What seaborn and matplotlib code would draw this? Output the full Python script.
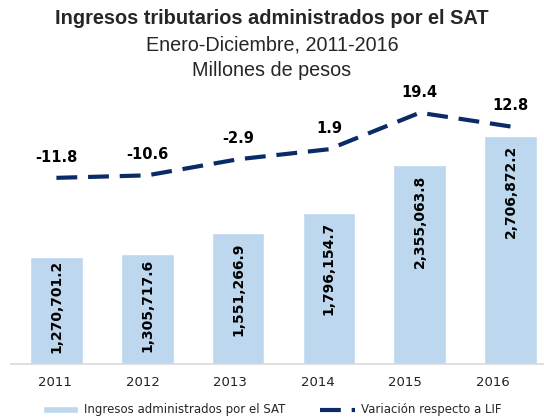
import matplotlib
matplotlib.use("Agg")
import matplotlib.pyplot as plt
import matplotlib.transforms as mtransforms
import seaborn as sns
import pandas as pd

# data
years = ["2011", "2012", "2013", "2014", "2015", "2016"]
ingresos = [1270701.2, 1305717.6, 1551266.9, 1796154.7, 2355063.8, 2706872.2]
variacion = [-11.8, -10.6, -2.9, 1.9, 19.4, 12.8]

bar_color = "#BDD7EE"
line_color = "#0B2B66"

df = pd.DataFrame({"anio": years, "ingresos": ingresos, "variacion": variacion})

sns.set_theme(style="white")
plt.rcParams["font.family"] = ["Liberation Sans", "DejaVu Sans"]

fig = plt.figure(figsize=(5.44, 4.17), dpi=100)
# plot area runs a little past the right edge, as in the original
ax = fig.add_axes([11 / 544, 1 - 364 / 417, 545 / 544, 264 / 417])

sns.barplot(data=df, x="anio", y="ingresos", color=bar_color, width=0.58,
            saturation=1, ax=ax, label="Ingresos administrados por el SAT")
ax.set_ylim(0, 3130000)
ax.set_xlim(-0.5, 5.5)
ax.set_xlabel("")
ax.set_ylabel("")
ax.set_yticks([])
if ax.get_legend():
    ax.get_legend().remove()
for s in ["top", "left", "right"]:
    ax.spines[s].set_visible(False)
ax.spines["bottom"].set_color("#D9D9D9")
ax.spines["bottom"].set_linewidth(1.2)
ax.tick_params(axis="x", length=0, pad=9)
# year labels drift slightly left of the bars in the original
for i, t in enumerate(ax.get_xticklabels()):
    t.set_fontfamily("DejaVu Sans")
    t.set_fontsize(9.5)
    t.set_color("#222222")
    shift = mtransforms.ScaledTranslation((-1.5 - 3.3 * i) / 100, 0, fig.dpi_scale_trans)
    t.set_transform(t.get_transform() + shift)

# labels inside the bars
for i, v in enumerate(ingresos):
    if v < 1400000:
        ax.text(i, v / 2 + 45000, f"{v:,.1f}", rotation=90, ha="center", va="center",
                fontsize=10, fontweight="bold", family="DejaVu Sans", color="black")
    else:
        ax.annotate(f"{v:,.1f}", (i, v), xytext=(0, -6.5), textcoords="offset points",
                    rotation=90, ha="center", va="top", fontsize=10,
                    fontweight="bold", family="DejaVu Sans", color="black")

ax2 = ax.twinx()
sns.lineplot(x=list(range(len(years))), y=variacion, ax=ax2, color=line_color,
             linewidth=3, label="Variación respecto a LIF")
ax2.lines[0].set_dashes([5, 2.6])
ax2.set_ylim(-101, 25.5)
ax2.set_yticks([])
for s in ["top", "left", "right", "bottom"]:
    ax2.spines[s].set_visible(False)
for i, v in enumerate(variacion):
    ax2.annotate(f"{v:.1f}", (i, v), xytext=(0, 9.5), textcoords="offset points",
                 ha="center", va="bottom", fontsize=10.5, fontweight="bold",
                 family="DejaVu Sans", color="black")
ax2.get_legend().remove()

h1, l1 = ax.get_legend_handles_labels()
h2, l2 = ax2.get_legend_handles_labels()
fig.legend(h1 + h2, l1 + l2, loc="center", bbox_to_anchor=(0.5, 1 - 410 / 417),
           ncol=2, frameon=False, handlelength=3.0, handleheight=0.5,
           handletextpad=0.5, columnspacing=2.9,
           prop={"family": "DejaVu Sans", "size": 8.5})

fig.text(0.5, 1 - 18 / 417, "Ingresos tributarios administrados por el SAT",
         ha="center", va="center", fontsize=14.4, fontweight="bold")
fig.text(0.5, 1 - 45 / 417, "Enero-Diciembre, 2011-2016", ha="center", va="center", fontsize=14.2)
fig.text(0.5, 1 - 70 / 417, "Millones de pesos", ha="center", va="center", fontsize=14.2)

fig.savefig("out.png", dpi=100)
